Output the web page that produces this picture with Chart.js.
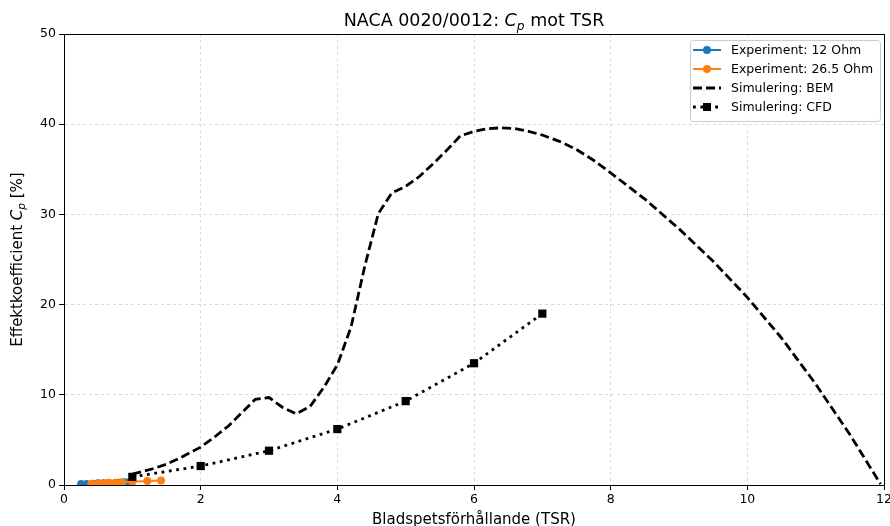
<!DOCTYPE html>
<html>
<head>
<meta charset="utf-8">
<script src="https://cdn.jsdelivr.net/npm/chart.js@4.4.1/dist/chart.umd.min.js"></script>
<style>
  html, body { margin: 0; background: #fff; }
  #wrap { width: 890px; height: 526px; position: relative; }
</style>
</head>
<body>
<div id="wrap"><canvas id="chart"></canvas></div>
<script>
/* Cp vs TSR: two experiment series, BEM curve (dashed), CFD points (dotted). */

const FONT = '"DejaVu Sans", "Liberation Sans", sans-serif';

const xTicks = [0, 2, 4, 6, 8, 10, 12];
const yTicks = [0, 10, 20, 30, 40, 50];

const exp12Tsr = [0.25, 0.33, 0.42, 0.5, 0.58, 0.67, 0.8, 0.88, 0.95];
const exp12Cp  = [0.1, 0.1, 0.15, 0.2, 0.2, 0.2, 0.25, 0.3, 0.3];

const exp265Tsr = [0.4, 0.48, 0.57, 0.65, 0.75, 0.85, 1.0, 1.22, 1.42];
const exp265Cp  = [0.1, 0.15, 0.2, 0.25, 0.25, 0.3, 0.35, 0.45, 0.5];

const bemTsr = [1.0, 1.3, 1.5, 1.7, 2.0, 2.2, 2.4, 2.6, 2.8, 3.0, 3.2, 3.4, 3.6, 3.8,
  4.0, 4.2, 4.4, 4.6, 4.8, 5.0, 5.2, 5.4, 5.6, 5.8, 6.0, 6.2, 6.4, 6.6, 6.8, 7.0,
  7.25, 7.5, 7.75, 8.0, 8.5, 9.0, 9.5, 10.0, 10.5, 11.0, 11.5, 11.95];
const bemCp = [1.2, 1.8, 2.3, 3.0, 4.2, 5.3, 6.5, 8.0, 9.5, 9.7, 8.6, 7.9, 8.7, 10.8,
  13.3, 17.5, 24.2, 30.1, 32.4, 33.1, 34.2, 35.6, 37.1, 38.7, 39.2, 39.5, 39.6, 39.5, 39.2, 38.8,
  38.1, 37.2, 36.0, 34.6, 31.7, 28.4, 24.8, 20.8, 16.3, 11.2, 5.6, 0.1];

const cfdTsr = [1, 2, 3, 4, 5, 6, 7];
const cfdCp  = [0.9, 2.1, 3.8, 6.2, 9.3, 13.5, 19.0];

const seriesLabels = ['Experiment: 12 Ohm', 'Experiment: 26.5 Ohm', 'Simulering: BEM', 'Simulering: CFD'];

const pts = (xs, ys) => xs.map((x, i) => ({ x, y: ys[i] }));

// draw text made of runs (normal / italic / subscript)
function richWidth(ctx, runs, size) {
  let w = 0;
  runs.forEach((r) => {
    ctx.font = `${r.it ? 'italic ' : ''}${r.sub ? size * 0.7 : size}px ${FONT}`;
    w += ctx.measureText(r.t).width;
  });
  return w;
}
function drawRich(ctx, runs, x, y, size) {
  let cx = x - richWidth(ctx, runs, size) / 2;
  ctx.textAlign = 'left';
  ctx.textBaseline = 'alphabetic';
  runs.forEach((r) => {
    ctx.font = `${r.it ? 'italic ' : ''}${r.sub ? size * 0.7 : size}px ${FONT}`;
    ctx.fillText(r.t, cx, r.sub ? y + size * 0.2 : y);
    cx += ctx.measureText(r.t).width;
  });
}

const decorations = {
  id: 'decorations',
  afterDraw(chart) {
    const { ctx, chartArea: a } = chart;
    ctx.save();
    // frame on all four sides
    ctx.strokeStyle = '#000';
    ctx.lineWidth = 1;
    ctx.strokeRect(Math.round(a.left) + 0.5, Math.round(a.top) + 0.5,
      Math.round(a.right - a.left), Math.round(a.bottom - a.top));

    ctx.fillStyle = '#000';
    drawRich(ctx, [{ t: 'NACA 0020/0012: ' }, { t: 'C', it: true }, { t: 'p', it: true, sub: true }, { t: ' mot TSR' }],
      (a.left + a.right) / 2, 26, 17.5);

    ctx.save();
    ctx.translate(22, (a.top + a.bottom) / 2);
    ctx.rotate(-Math.PI / 2);
    drawRich(ctx, [{ t: 'Effektkoefficient ' }, { t: 'C', it: true }, { t: 'p', it: true, sub: true }, { t: ' [%]' }], 0, 0, 15);
    ctx.restore();

    // legend box
    const lx = 690, ly = 40, lw = 190, lh = 81;
    ctx.beginPath();
    ctx.roundRect(lx + 0.5, ly + 0.5, lw, lh, 3);
    ctx.fillStyle = 'rgba(255,255,255,0.85)';
    ctx.fill();
    ctx.strokeStyle = '#cccccc';
    ctx.stroke();

    chart.data.datasets.forEach((ds, i) => {
      const y = 50 + i * 19;
      ctx.beginPath();
      ctx.setLineDash(ds.borderDash || []);
      ctx.strokeStyle = ds.borderColor;
      ctx.lineWidth = ds.borderWidth;
      ctx.moveTo(693, y);
      ctx.lineTo(721, y);
      ctx.stroke();
      ctx.setLineDash([]);
      if (ds.pointRadius > 0) {
        ctx.fillStyle = ds.pointBackgroundColor;
        if (ds.pointStyle === 'rect') {
          ctx.fillRect(703, y - 4, 8, 8);
        } else {
          ctx.beginPath();
          ctx.arc(707, y, 4, 0, Math.PI * 2);
          ctx.fill();
        }
      }
      ctx.fillStyle = '#000';
      ctx.font = `12.5px ${FONT}`;
      ctx.textAlign = 'left';
      ctx.textBaseline = 'middle';
      ctx.fillText(ds.label, 731, y + 1);
    });
    ctx.restore();
  },
};

const tickFont = { family: FONT, size: 12.5 };

new Chart(document.getElementById('chart'), {
  type: 'line',
  data: {
    datasets: [
      {
        label: seriesLabels[0], data: pts(exp12Tsr, exp12Cp), order: 4,
        borderColor: '#1f77b4', backgroundColor: '#1f77b4', pointBackgroundColor: '#1f77b4',
        borderWidth: 2, pointRadius: 4, pointBorderWidth: 0, pointStyle: 'circle',
      },
      {
        label: seriesLabels[1], data: pts(exp265Tsr, exp265Cp), order: 3,
        borderColor: '#ff7f0e', backgroundColor: '#ff7f0e', pointBackgroundColor: '#ff7f0e',
        borderWidth: 2, pointRadius: 4, pointBorderWidth: 0, pointStyle: 'circle',
      },
      {
        label: seriesLabels[2], data: pts(bemTsr, bemCp), order: 2,
        borderColor: '#000', backgroundColor: '#000', borderWidth: 2.8,
        borderDash: [9, 4], pointRadius: 0,
      },
      {
        label: seriesLabels[3], data: pts(cfdTsr, cfdCp), order: 1,
        borderColor: '#000', backgroundColor: '#000', pointBackgroundColor: '#000',
        borderWidth: 2.8, borderDash: [2.8, 4.6], pointRadius: 5.8, pointBorderWidth: 0,
        pointStyle: 'rect',
      },
    ],
  },
  options: {
    responsive: true,
    maintainAspectRatio: false,
    animation: false,
    layout: { padding: { top: 34, right: 6, left: 0, bottom: 0 } },
    plugins: { legend: { display: false }, title: { display: false }, tooltip: { enabled: false } },
    elements: { line: { tension: 0 } },
    scales: {
      x: {
        type: 'linear', min: 0, max: 12,
        afterBuildTicks: (s) => { s.ticks = xTicks.map((v) => ({ value: v })); },
        afterFit: (s) => { s.height = 41; s.paddingLeft = 0; s.paddingRight = 0; },
        ticks: { color: '#000', font: tickFont, padding: 2 },
        grid: { color: 'rgba(176,176,176,0.6)', lineWidth: 0.8, tickColor: '#000', tickLength: 5, tickWidth: 1 },
        border: { color: '#000', dash: [3, 3] },
        title: { display: true, text: 'Bladspetsförhållande (TSR)', color: '#000', font: { family: FONT, size: 15 }, padding: { top: 0, bottom: -3 } },
      },
      y: {
        type: 'linear', min: 0, max: 50,
        afterBuildTicks: (s) => { s.ticks = yTicks.map((v) => ({ value: v })); },
        afterFit: (s) => { s.width = 64; s.paddingTop = 0; s.paddingBottom = 0; },
        ticks: { color: '#000', font: tickFont, padding: 3 },
        grid: { color: 'rgba(176,176,176,0.6)', lineWidth: 0.8, tickColor: '#000', tickLength: 5, tickWidth: 1 },
        border: { color: '#000', dash: [3, 3] },
      },
    },
  },
  plugins: [decorations],
});
</script>
</body>
</html>
